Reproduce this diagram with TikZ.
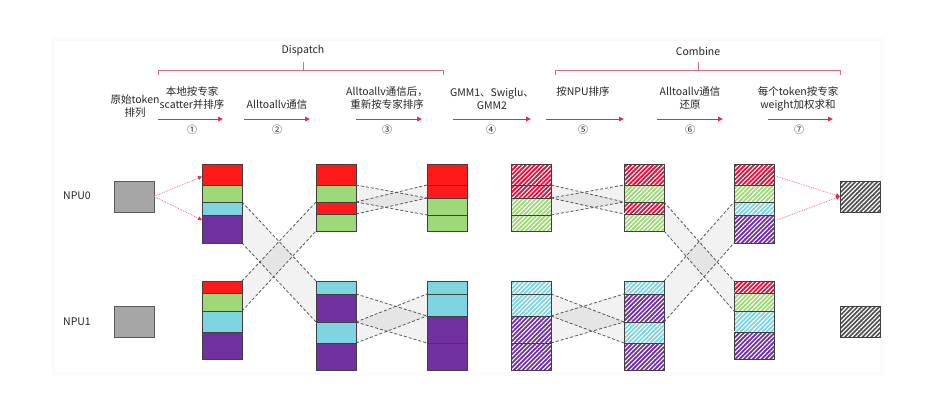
\documentclass[tikz,border=0pt]{standalone}
\usepackage{fontspec}
\setmainfont{Noto Sans CJK SC}
\usetikzlibrary{arrows.meta,patterns.meta,calc}
\pgfdeclarelayer{bg}
\pgfdeclarelayer{bands}
\pgfsetlayers{bg,bands,main}
\definecolor{cR}{HTML}{FF1A1A}
\definecolor{hR}{HTML}{E3103C}
\definecolor{cG}{HTML}{9FD878}
\definecolor{cC}{HTML}{7ED5E0}
\definecolor{cP}{HTML}{7030A0}
\definecolor{cGray}{HTML}{A6A6A6}
\definecolor{hGray}{HTML}{505050}
\definecolor{blkline}{HTML}{404040}
\definecolor{arr}{HTML}{E8284A}
\definecolor{brc}{HTML}{E06A7E}
\definecolor{txt}{HTML}{262626}
\tikzset{
  blk/.style={draw=blkline, line width=0.8pt, minimum width=40pt, inner sep=0pt, outer sep=0pt},
  sol/.style={fill=#1},
  hat/.style={preaction={fill=#1}, pattern={Lines[angle=45,distance=3.1pt,line width=1.05pt]}, pattern color=white},
  bandfill/.style={fill=black, fill opacity=0.05},
  banddash/.style={draw=black!65, line width=0.8pt, dash pattern=on 3pt off 2pt},
  lbl/.style={align=center, text=txt, font=\fontsize{10.5}{13}\selectfont, inner sep=0pt},
  num/.style={text=txt, font=\fontsize{10}{12}\selectfont, inner sep=0pt},
  steparrow/.style={draw=arr, line width=0.9pt, -{Triangle[length=5pt,width=4.5pt]}},
  brace/.style={draw=brc, line width=0.8pt},
  dotarrow/.style={draw=arr!65, line width=0.8pt, densely dotted, -{Triangle[length=4pt,width=4pt,color=arr]}},
  inbox/.style={draw=black!65, line width=0.9pt, fill=cGray, minimum width=40pt, minimum height=31pt, inner sep=0pt, outer sep=0pt},
  outbox/.style={draw=black!75, line width=0.9pt, preaction={fill=hGray}, pattern={Lines[angle=45,distance=3.1pt,line width=1.2pt]}, pattern color=white, minimum width=40pt, minimum height=31pt, inner sep=0pt, outer sep=0pt}
}
% block: name, left x, top y, bottom y, style
\newcommand\bk[5]{\node[blk,#5,minimum height={#4pt-#3pt}] (#1) at ({#2+20},{(#3+#4)/2}) {};}
% stack types: prefix, x, style, red colour
\newcommand\stackA[4]{%
\bk{#1a1}{#2}{164}{185}{#3=#4}
\bk{#1a2}{#2}{185}{202}{#3=cG}
\bk{#1a3}{#2}{202}{215}{#3=cC}
\bk{#1a4}{#2}{215}{243}{#3=cP}
\bk{#1b1}{#2}{281}{293}{#3=#4}
\bk{#1b2}{#2}{293}{311}{#3=cG}
\bk{#1b3}{#2}{311}{332}{#3=cC}
\bk{#1b4}{#2}{332}{359}{#3=cP}}
\newcommand\stackB[4]{%
\bk{#1a1}{#2}{164}{185}{#3=#4}
\bk{#1a2}{#2}{185}{202}{#3=cG}
\bk{#1a3}{#2}{202}{214}{#3=#4}
\bk{#1a4}{#2}{214}{231}{#3=cG}
\bk{#1b1}{#2}{281}{294}{#3=cC}
\bk{#1b2}{#2}{294}{322}{#3=cP}
\bk{#1b3}{#2}{322}{343}{#3=cC}
\bk{#1b4}{#2}{343}{370}{#3=cP}}
\newcommand\stackC[4]{%
\bk{#1a1}{#2}{164}{185}{#3=#4}
\bk{#1a2}{#2}{185}{198}{#3=#4}
\bk{#1a3}{#2}{198}{215}{#3=cG}
\bk{#1a4}{#2}{215}{231}{#3=cG}
\bk{#1b1}{#2}{281}{294}{#3=cC}
\bk{#1b2}{#2}{294}{316}{#3=cC}
\bk{#1b3}{#2}{316}{343}{#3=cP}
\bk{#1b4}{#2}{343}{370}{#3=cP}}
% band: a-top, a-bottom, b-top, b-bottom
\newcommand\band[4]{%
\begin{pgfonlayer}{bands}
\fill[bandfill] (#1.north east) -- (#3.north west) -- (#4.south west) -- (#2.south east) -- cycle;
\draw[banddash] (#1.north east) -- (#3.north west);
\draw[banddash] (#2.south east) -- (#4.south west);
\end{pgfonlayer}}
\begin{document}
\begin{tikzpicture}[x=1pt,y=-1pt]
\useasboundingbox (0,0) rectangle (946,395);
\begin{pgfonlayer}{bg}
\fill[white] (0,0) rectangle (946,395);
\fill[black!1.5] (52,38) rectangle (883,376);
\fill[black!2.5] (54,40) rectangle (881,373.5);
\fill[white] (55,41) rectangle (880,372);
\end{pgfonlayer}

% header braces
\coordinate (dL) at (158,75); \coordinate (dR) at (443,75); \coordinate (dM) at (303,70);
\coordinate (cL) at (555,75); \coordinate (cRt) at (840,75); \coordinate (cM) at (698,70);
\draw[brace] (dL) -- ++(0,-5) -| (dR);
\draw[brace] (dM) -- ++(0,-8);
\draw[brace] (cL) -- ++(0,-5) -| (cRt);
\draw[brace] (cM) -- ++(0,-8);
\node[lbl] (dispatch) at (303,51) {Dispatch};
\node[lbl] (combine) at (698,51) {Combine};

% step labels
\node[lbl] (t0) at (135,106.5) {原始token\\排列};
\node[lbl] (t1) at (192,98.5) {本地按专家\\scatter并排序};
\node[lbl] (t2) at (277,105) {Alltoallv通信};
\node[lbl] (t3) at (387,98.5) {Alltoallv通信后，\\重新按专家排序};
\node[lbl] (t4) at (492,98.5) {GMM1、Swiglu、\\GMM2};
\node[lbl] (t5) at (583,92) {按NPU排序};
\node[lbl] (t6) at (690,98.5) {Alltoallv通信\\还原};
\node[lbl] (t7) at (798,98.5) {每个token按专家\\weight加权求和};

% step arrows and numbers
\foreach \i/\xa/\xb/\xn/\s in {1/158/223/192/①, 2/244/310/277/②, 3/356/422/387/③, 4/453/531/491/④, 5/546/624/583/⑤, 6/657/723/690/⑥, 7/768/833/799/⑦}{
  \coordinate (s\i a) at (\xa,119);
  \coordinate (s\i b) at (\xb,119);
  \draw[steparrow] (s\i a) -- (s\i b);
  \node[num] (n\i) at (\xn,130) {\s};
}

% NPU labels
\node[lbl] (npu0) at (77,196) {NPU0};
\node[lbl] (npu1) at (77,322) {NPU1};

% input and output boxes
\node[inbox] (in0) at (134,196.5) {};
\node[inbox] (in1) at (134,321.5) {};
\node[outbox] (out0) at (860,196.5) {};
\node[outbox] (out1) at (860,321.5) {};

% stacks
\stackA{c1}{202}{sol}{cR}
\stackB{c2}{316}{sol}{cR}
\stackC{c3}{427}{sol}{cR}
\stackC{c4}{511}{hat}{hR}
\stackB{c5}{624}{hat}{hR}
\stackA{c6}{734}{hat}{hR}

% bands
\band{c1a3}{c1a4}{c2b1}{c2b2}
\band{c1b1}{c1b2}{c2a3}{c2a4}
\band{c2a2}{c2a2}{c3a3}{c3a3}
\band{c2a3}{c2a3}{c3a2}{c3a2}
\band{c2b2}{c2b2}{c3b3}{c3b3}
\band{c2b3}{c2b3}{c3b2}{c3b2}
\band{c4a2}{c4a2}{c5a3}{c5a3}
\band{c4a3}{c4a3}{c5a2}{c5a2}
\band{c4b2}{c4b2}{c5b3}{c5b3}
\band{c4b3}{c4b3}{c5b2}{c5b2}
\band{c5a3}{c5a4}{c6b1}{c6b2}
\band{c5b1}{c5b2}{c6a3}{c6a4}

% scatter / gather arrows
\draw[dotarrow] (in0.east) -- ([yshift=-2pt]c1a1.west);
\draw[dotarrow] (in0.east) -- ([yshift=-5pt]c1a4.north west);
\draw[dotarrow] ([yshift=-2pt,xshift=3pt]c6a1.east) -- (out0.west);
\draw[dotarrow] ([yshift=-5pt,xshift=3pt]c6a4.north east) -- (out0.west);
\end{tikzpicture}
\end{document}
